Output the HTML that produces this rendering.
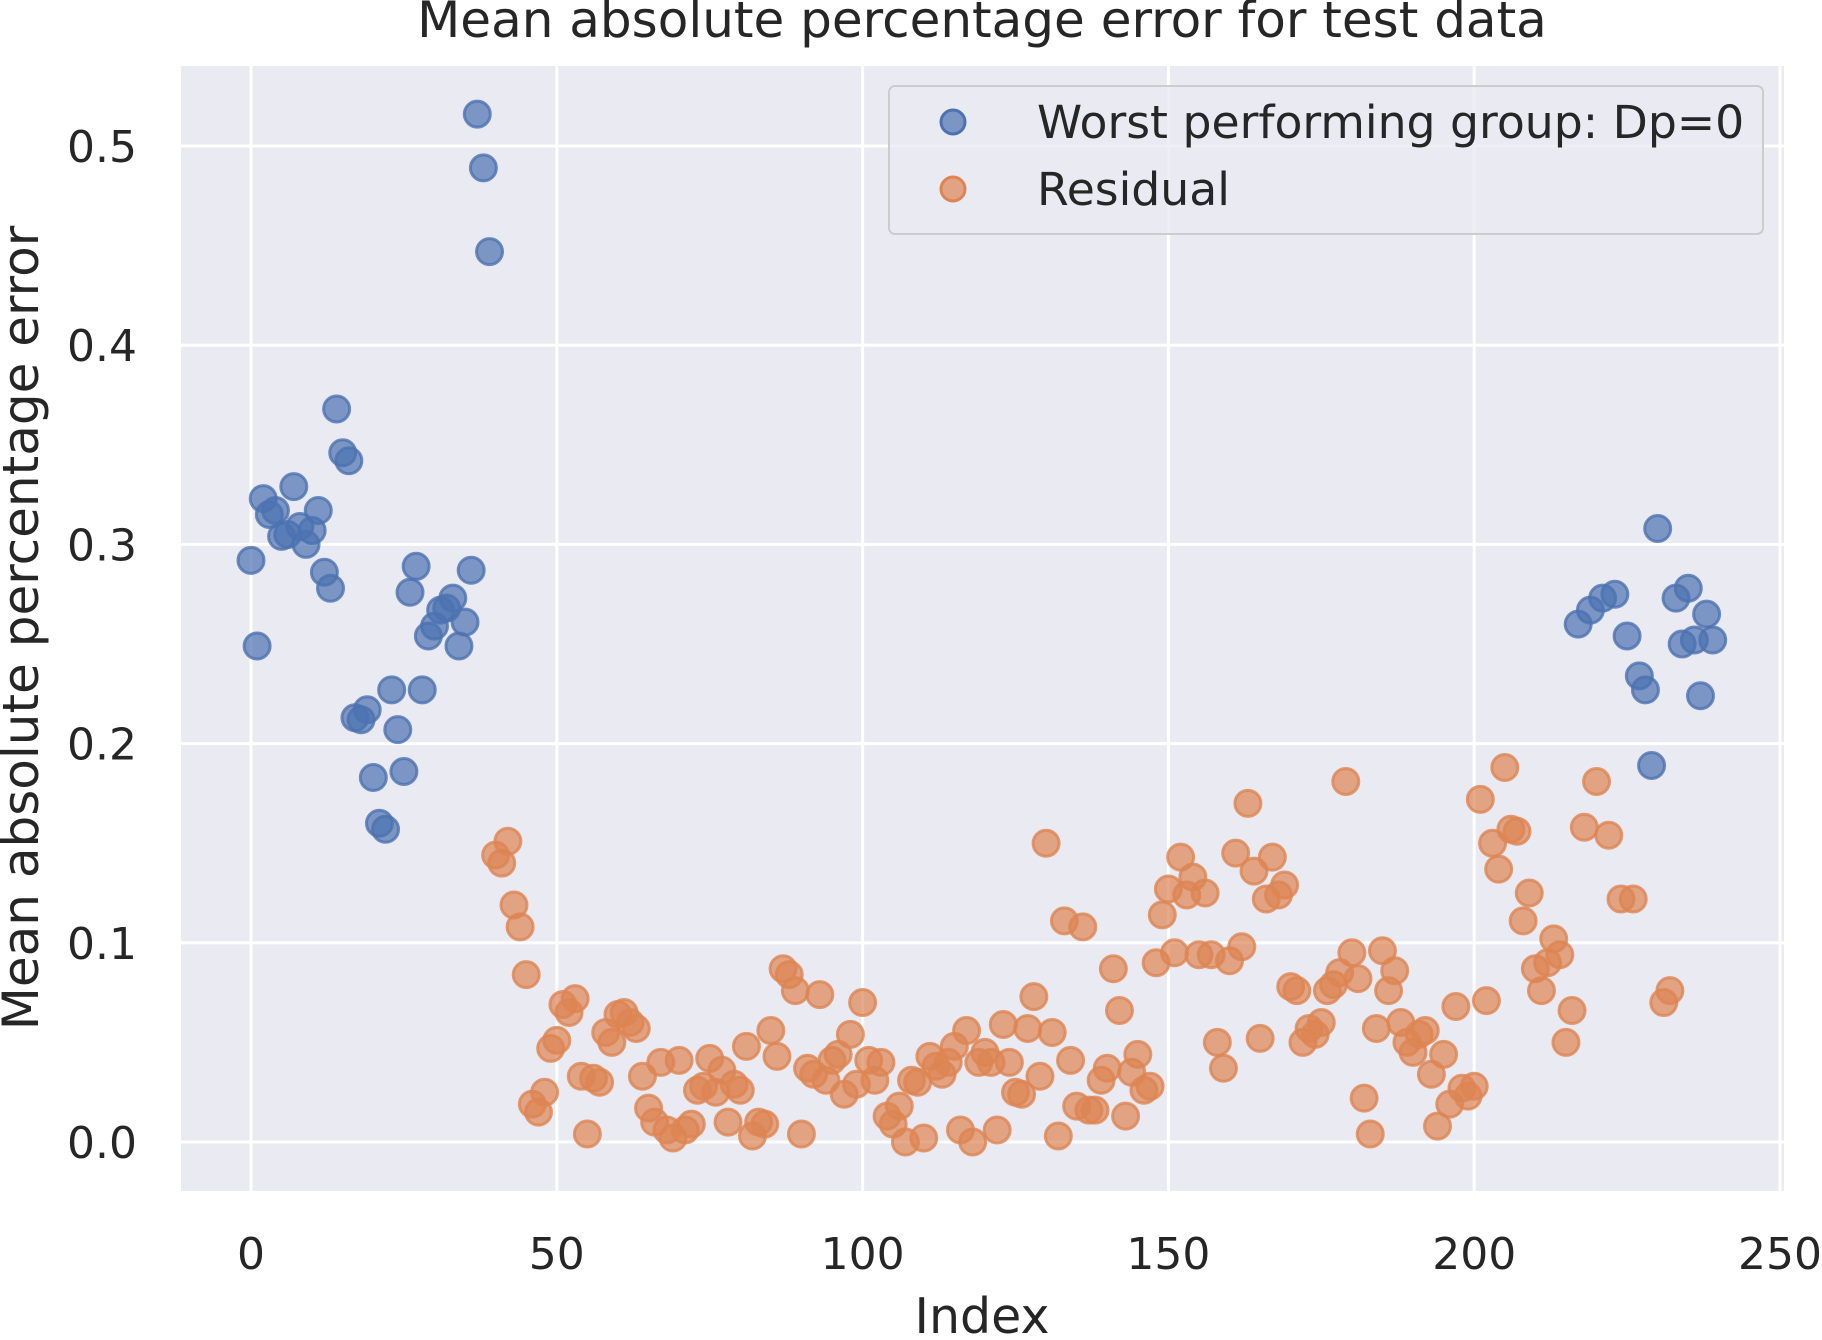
<!DOCTYPE html>
<html><head><meta charset="utf-8"><style>
html,body{margin:0;padding:0;background:#fff;}
svg text{font-family:"DejaVu Sans","Liberation Sans",sans-serif;fill:#262626;}
</style></head><body>
<svg id="chart" width="1822" height="1335" viewBox="0 0 1822 1335" xmlns="http://www.w3.org/2000/svg">
<rect x="181" y="66" width="1603" height="1125" fill="#eaeaf2"/>
<g id="grid"></g>
<g id="pts"></g>
<g id="ticks"></g>
<text x="982" y="37" font-size="50" text-anchor="middle">Mean absolute percentage error for test data</text>
<text x="982" y="1333" font-size="49" text-anchor="middle">Index</text>
<text transform="translate(38,628) rotate(-90)" font-size="50" text-anchor="middle">Mean absolute percentage error</text>
<g>
<rect x="889" y="86" width="874" height="148" rx="6" fill="#eaeaf2" stroke="#cccccc" stroke-width="2" fill-opacity="0.8"/>
<circle cx="953" cy="122" r="12" fill="#4c72b0" fill-opacity="0.7" stroke="#4c72b0" stroke-width="3"/>
<text x="1037" y="138" font-size="45.7">Worst performing group: Dp=0</text>
<circle cx="953" cy="189" r="12" fill="#dd8452" fill-opacity="0.7" stroke="#dd8452" stroke-width="3"/>
<text x="1037" y="205" font-size="45.7">Residual</text>
</g>
</svg>
<script>
const blueIdx=[0,1,2,3,4,5,6,7,8,9,10,11,12,13,14,15,16,17,18,19,20,21,22,23,24,25,26,27,28,29,30,31,32,33,34,35,36,37,38,39,217,219,221,223,225,227,228,229,230,233,234,235,236,237,238,239];
const blueVal=[0.292,0.249,0.323,0.315,0.317,0.304,0.305,0.329,0.309,0.300,0.307,0.317,0.286,0.278,0.368,0.346,0.342,0.213,0.212,0.217,0.183,0.160,0.157,0.227,0.207,0.186,0.276,0.289,0.227,0.254,0.259,0.267,0.268,0.273,0.249,0.261,0.287,0.516,0.489,0.447,0.260,0.267,0.273,0.275,0.254,0.234,0.227,0.189,0.308,0.273,0.250,0.278,0.252,0.224,0.265,0.252];
const orangeVal=[0.144,0.140,0.151,0.119,0.108,0.084,0.019,0.015,0.025,0.047,0.051,0.069,0.065,0.072,0.033,0.004,0.032,0.030,0.055,0.050,0.064,0.065,0.060,0.057,0.033,0.017,0.010,0.040,0.006,0.002,0.041,0.006,0.009,0.026,0.028,0.042,0.025,0.036,0.010,0.029,0.026,0.048,0.003,0.010,0.009,0.056,0.043,0.087,0.084,0.076,0.004,0.037,0.034,0.074,0.031,0.041,0.044,0.024,0.054,0.029,0.070,0.041,0.031,0.040,0.013,0.009,0.018,0.000,0.031,0.030,0.002,0.043,0.038,0.034,0.040,0.048,0.006,0.056,0.000,0.040,0.045,0.040,0.006,0.059,0.040,0.025,0.024,0.057,0.073,0.033,0.150,0.055,0.003,0.111,0.041,0.018,0.108,0.016,0.016,0.031,0.037,0.087,0.066,0.013,0.035,0.044,0.026,0.028,0.090,0.114,0.127,0.095,0.143,0.124,0.133,0.094,0.125,0.094,0.050,0.037,0.091,0.145,0.098,0.170,0.136,0.052,0.122,0.143,0.124,0.129,0.078,0.076,0.050,0.057,0.054,0.060,0.076,0.079,0.085,0.181,0.095,0.082,0.022,0.004,0.057,0.096,0.076,0.086,0.060,0.050,0.045,0.054,0.056,0.034,0.008,0.044,0.019,0.068,0.027,0.023,0.028,0.172,0.071,0.150,0.137,0.188,0.157,0.156,0.111,0.125,0.087,0.076,0.090,0.102,0.094,0.050,0.066,0.158,0.181,0.154,0.122,0.122,0.070,0.076];
const orangeIdx=[];for(let i=40;i<=216;i++)orangeIdx.push(i);orangeIdx.push(218,220,222,224,226,231,232);
const xTicks=[0,50,100,150,200,250];
const yTicks=[0.0,0.1,0.2,0.3,0.4,0.5];
const xs=i=>251+i*6.116, ys=v=>1142-v*1992;
const NS='http://www.w3.org/2000/svg';
const grid=document.getElementById('grid'),tk=document.getElementById('ticks'),pts=document.getElementById('pts');
function mk(tag,a,p){const e=document.createElementNS(NS,tag);for(const k in a)e.setAttribute(k,a[k]);p.appendChild(e);return e;}
xTicks.forEach(t=>{
 const l=mk('line',{x1:xs(t),x2:xs(t),y1:66,y2:1191,stroke:'#fff','stroke-width':3},grid);
 
 
 const tx=mk('text',{x:xs(t),y:1269,'font-size':44,'text-anchor':'middle'},tk);tx.textContent=t;
 
 
});
yTicks.forEach(t=>{
 const l=mk('line',{x1:181,x2:1784,y1:ys(t),y2:ys(t),stroke:'#fff','stroke-width':3},grid);
 
 
 const tx=mk('text',{x:137,y:ys(t)+16,'font-size':44,'text-anchor':'end'},tk);tx.textContent=t.toFixed(1);
 
 
});
function draw(idx,val,c,name){idx.forEach((i,k)=>{
 const e=mk('circle',{cx:xs(i),cy:ys(val[k]),r:13,fill:c,'fill-opacity':0.7,stroke:c,'stroke-opacity':0.8,'stroke-width':3},pts);
 
 
});}
draw(blueIdx,blueVal,'#4c72b0','worst-group-point');
draw(orangeIdx,orangeVal,'#dd8452','residual-point');
</script>
</body></html>
